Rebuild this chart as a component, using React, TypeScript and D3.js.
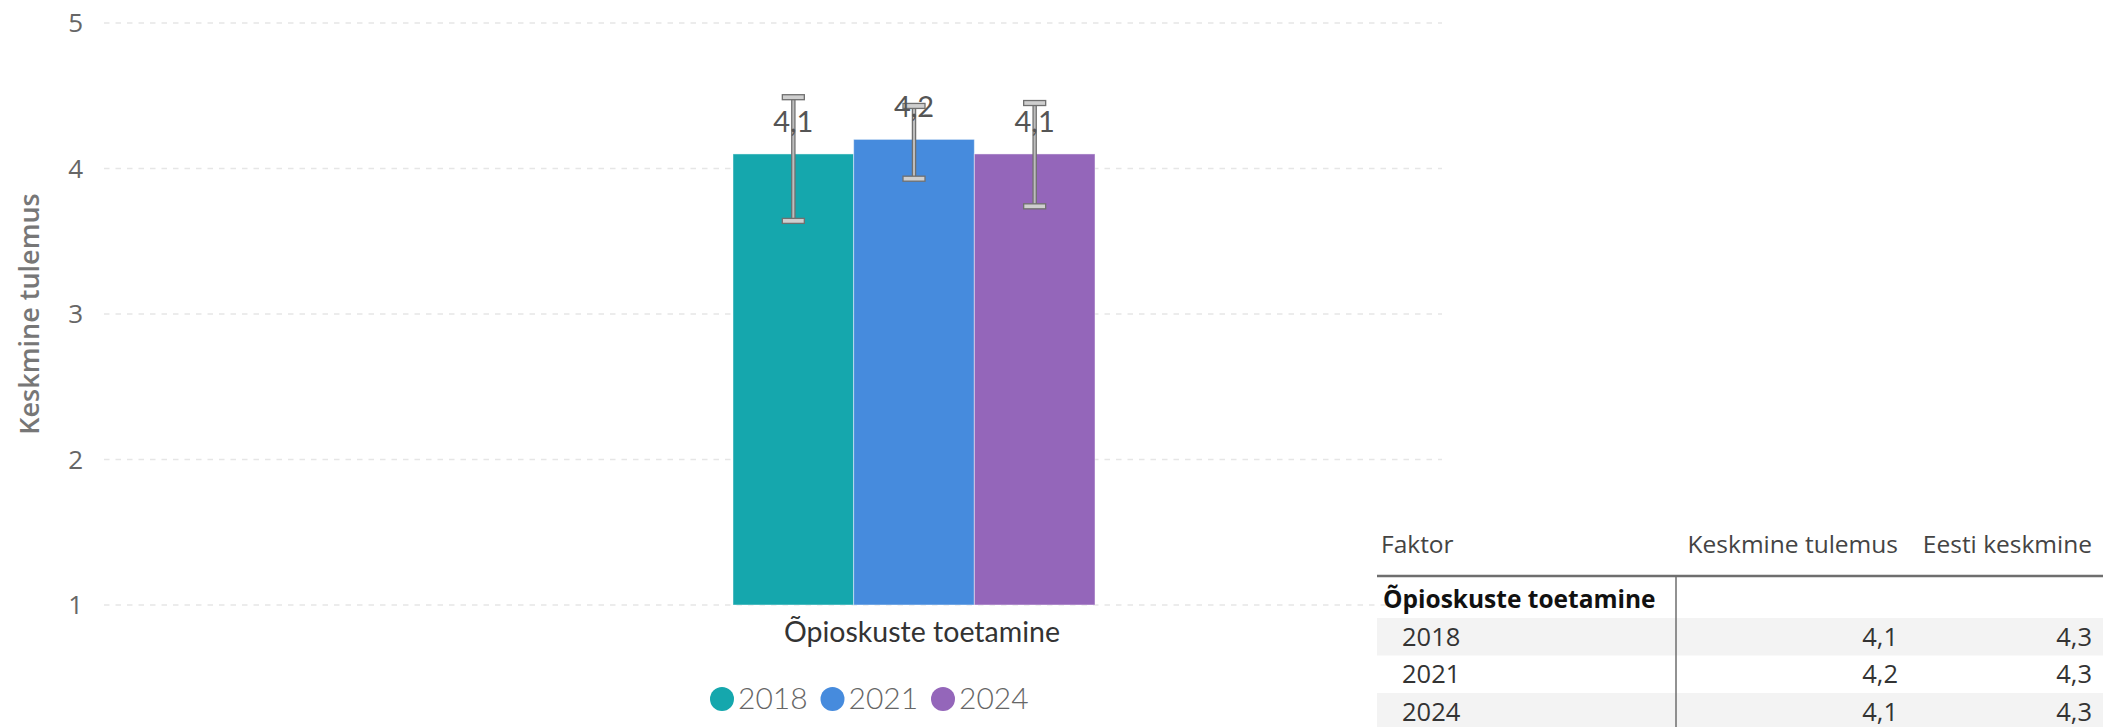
import React, { useLayoutEffect } from "react";
import * as d3 from "d3";

const categories = ["Õpioskuste toetamine"];
const years = ["2018", "2021", "2024"];
const means = [4.1, 4.2, 4.1];
const errLow = [3.64, 3.93, 3.74];
const errHigh = [4.49, 4.43, 4.45];
const eestiKeskmine = [4.3, 4.3, 4.3];
const yTicks = [1, 2, 3, 4, 5];
const colors = ["#15A7AD", "#468BDD", "#9466BA"];
const tableHeaders = ["Faktor", "Keskmine tulemus", "Eesti keskmine"];

const W = 2103;
const H = 727;

const locale = d3.formatLocale({ decimal: ",", thousands: " ", grouping: [3], currency: ["", "€"] });
const fmt = locale.format(".1f");

export default function App() {
  useLayoutEffect(() => {
    document.body.style.margin = "0";
  }, []);

  const y = d3.scaleLinear().domain([1, 5]).range([605, 23]);
  const x0 = d3.scaleBand().domain(categories).range([733, 1095]).padding(0);
  const x1 = d3.scaleBand().domain(years).range([0, x0.bandwidth()]).padding(0);
  const gridX0 = 104;
  const gridX1 = 1442;
  const cat = categories[0];
  const bx = (i: number) => (x0(cat) as number) + (x1(years[i]) as number);
  const bw = x1.bandwidth();

  // table layout
  const tX = 1377;
  const rowH = 37.5;
  const headerY = 553;
  const lineY = 576;
  const groupY = 608;
  const rowTop = 618;

  const labelFont = "Lato, 'Open Sans', sans-serif";
  const uiFont = "'Open Sans', 'Noto Sans', sans-serif";

  return (
    <svg width={W} height={H} style={{ display: "block" }} xmlns="http://www.w3.org/2000/svg">
      <rect x={0} y={0} width={W} height={H} fill="#fff" />
      {yTicks.map((t) => (
        <line
          key={"g" + t}
          x1={gridX0}
          x2={gridX1}
          y1={y(t)}
          y2={y(t)}
          stroke="#e6e6e6"
          strokeWidth={1.3}
          strokeDasharray="5.5 6"
        />
      ))}
      {yTicks.map((t) => (
        <text
          key={"t" + t}
          x={83}
          y={y(t)}
          dy="0.35em"
          textAnchor="end"
          fontFamily={uiFont}
          fontSize={26}
          fill="#666"
        >
          {t}
        </text>
      ))}
      <text
        transform={`translate(39,${(y(1) + y(5)) / 2}) rotate(-90)`}
        textAnchor="middle"
        fontFamily={uiFont}
        fontSize={27}
        fontWeight={600}
        fill="#777"
      >
        Keskmine tulemus
      </text>
      {means.map((v, i) => (
        <rect
          key={"b" + i}
          x={bx(i)}
          y={y(v)}
          width={bw}
          height={y(1) - y(v)}
          fill={colors[i]}
          stroke="#ffffff"
          strokeOpacity={0.45}
          strokeWidth={1}
        />
      ))}
      {means.map((v, i) => {
        const cx = bx(i) + bw / 2;
        const yt = y(errHigh[i]);
        const yb = y(errLow[i]);
        return (
          <g key={"e" + i}>
            <line x1={cx} x2={cx} y1={yt} y2={yb} stroke="#707070" strokeWidth={4.5} />
            <line x1={cx} x2={cx} y1={yt} y2={yb} stroke="#bdbdbd" strokeWidth={2} />
            {[yt, yb].map((yy, k) => (
              <rect
                key={k}
                x={cx - 11}
                y={yy - 2.5}
                width={22}
                height={5}
                fill="#cfcfcf"
                stroke="#707070"
                strokeWidth={1.3}
              />
            ))}
          </g>
        );
      })}
      {means.map((v, i) => (
        <text
          key={"l" + i}
          x={bx(i) + bw / 2}
          y={y(v) - 22}
          textAnchor="middle"
          fontFamily={labelFont}
          fontSize={29}
          fill="#555"
        >
          {fmt(v)}
        </text>
      ))}
      <text
        x={(x0(cat) as number) + x0.bandwidth() / 2 + 8}
        y={642}
        textAnchor="middle"
        fontFamily={labelFont}
        fontSize={28.5}
        fill="#333"
      >
        {cat}
      </text>
      {years.map((yr, i) => {
        const lx = 722 + i * 110.5;
        return (
          <g key={"lg" + i}>
            <circle cx={lx} cy={699} r={12} fill={colors[i]} />
            <text x={lx + 16} y={709} fontFamily={labelFont} fontWeight={300} fontSize={30} fill="#666">
              {yr}
            </text>
          </g>
        );
      })}
      <g fontFamily={uiFont}>
        <text x={tX + 4} y={headerY} fontSize={24.5} fill="#444">
          {tableHeaders[0]}
        </text>
        <text x={1898} y={headerY} fontSize={24.5} fill="#444" textAnchor="end">
          {tableHeaders[1]}
        </text>
        <text x={2092} y={headerY} fontSize={24.5} fill="#444" textAnchor="end">
          {tableHeaders[2]}
        </text>
        <line x1={tX} x2={W} y1={lineY} y2={lineY} stroke="#6e6e6e" strokeWidth={2.5} />
        {years.map((yr, i) =>
          i % 2 === 0 ? (
            <rect key={"sh" + i} x={tX} y={rowTop + i * rowH} width={W - tX} height={rowH} fill="#f3f3f3" />
          ) : null
        )}
        <line x1={1676} x2={1676} y1={lineY} y2={H} stroke="#6e6e6e" strokeWidth={1.5} />
        <text x={tX + 6} y={groupY} fontSize={24.5} fontWeight={700} fill="#111">
          {cat}
        </text>
        {years.map((yr, i) => {
          const by = rowTop + i * rowH + rowH / 2;
          return (
            <g key={"r" + i}>
              <text x={tX + 25} y={by} dy="0.35em" fontSize={25.5} fill="#333">
                {yr}
              </text>
              <text x={1898} y={by} dy="0.35em" fontSize={25.5} fill="#333" textAnchor="end">
                {fmt(means[i])}
              </text>
              <text x={2092} y={by} dy="0.35em" fontSize={25.5} fill="#333" textAnchor="end">
                {fmt(eestiKeskmine[i])}
              </text>
            </g>
          );
        })}
      </g>
    </svg>
  );
}
